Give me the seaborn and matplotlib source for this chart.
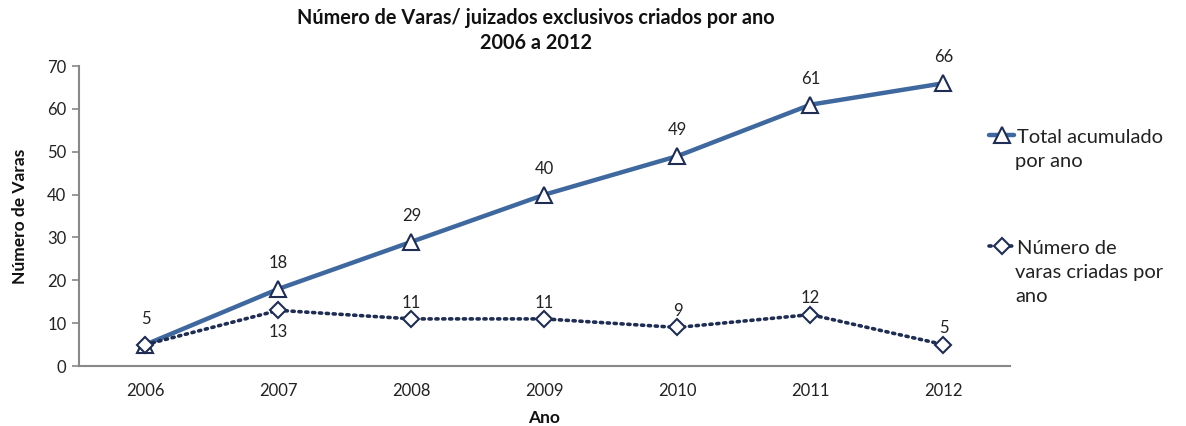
import matplotlib
matplotlib.use("Agg")
import matplotlib.pyplot as plt
import seaborn as sns
import pandas as pd
from matplotlib.lines import Line2D

years = ["2006", "2007", "2008", "2009", "2010", "2011", "2012"]
total_acumulado = [5, 18, 29, 40, 49, 61, 66]
varas_criadas = [5, 13, 11, 11, 9, 12, 5]
yticks = [0, 10, 20, 30, 40, 50, 60, 70]
legend_labels = [["Total acumulado", "por ano"],
                 ["Número de", "varas criadas por", "ano"]]

sns.set_theme(style="white")
plt.rcParams['font.family'] = ['Lato', 'DejaVu Sans']

df = pd.DataFrame({"Ano": years, "total": total_acumulado, "criadas": varas_criadas})

W, H = 1186, 426
fig = plt.figure(figsize=(W / 100, H / 100), dpi=100)
ax = fig.add_axes([0.0666, 0.1408, 0.785, 0.704])

navy = "#1F2D52"
blue = "#3F689E"
txt = "#222222"
fs = 12
lfs = 14.5

sns.lineplot(data=df, x="Ano", y="total", ax=ax, color=blue, linewidth=3.2,
             marker="^", markersize=12, markerfacecolor="white",
             markeredgecolor=navy, markeredgewidth=1.5, sort=False)
sns.lineplot(data=df, x="Ano", y="criadas", ax=ax, color=navy, linewidth=2.6,
             linestyle=(0, (0.6, 1.3)), dash_capstyle="round",
             marker="D", markersize=8.5, markerfacecolor="white",
             markeredgecolor=navy, markeredgewidth=1.5, sort=False)

for i, v in enumerate(total_acumulado):
    ax.annotate(str(v), (i, v), xytext=(0, 13), textcoords="offset points",
                ha="center", va="bottom", fontsize=fs, color=txt)
for i, v in enumerate(varas_criadas):
    if i == 0:
        continue
    if i == 1:
        ax.annotate(str(v), (i, v), xytext=(0, -10), textcoords="offset points",
                    ha="center", va="top", fontsize=fs, color=txt)
    else:
        ax.annotate(str(v), (i, v), xytext=(0, 6), textcoords="offset points",
                    ha="center", va="bottom", fontsize=fs, color=txt)

ax.set_xlim(-0.5, 6.5)
ax.set_ylim(0, 70)
ax.set_yticks(yticks)
ax.set_yticklabels([str(t) for t in yticks], fontsize=fs, color=txt)
ax.tick_params(axis="x", labelsize=fs, labelcolor=txt, length=0, pad=12)
ax.tick_params(axis="y", left=True, length=5, width=1.2, color="#888888", pad=4)

for s in ["top", "right"]:
    ax.spines[s].set_visible(False)
for s in ["left", "bottom"]:
    ax.spines[s].set_color("#888888")
    ax.spines[s].set_linewidth(1.5)

ax.set_xlabel("Ano", fontsize=12.5, fontweight="bold", labelpad=8, color="#111111")
ax.set_ylabel("Número de Varas", fontsize=12.5, fontweight="bold", labelpad=14, color="#111111")
fig.text(536 / W, 1 - 18 / H, "Número de Varas/ juizados exclusivos criados por ano",
         ha="center", va="center", fontsize=14.3, fontweight="bold", color="#111111")
fig.text(536 / W, 1 - 43 / H, "2006 a 2012",
         ha="center", va="center", fontsize=14.3, fontweight="bold", color="#111111")

# legend: handles drawn by matplotlib legend, text lines placed beside them
handles = [
    Line2D([], [], color=blue, linewidth=3.2, marker="^", markersize=12,
           markerfacecolor="white", markeredgecolor=navy, markeredgewidth=1.5),
    Line2D([], [], color=navy, linewidth=2.6, linestyle=(0, (0.6, 1.3)),
           dash_capstyle="round", marker="D", markersize=8.5,
           markerfacecolor="white", markeredgecolor=navy, markeredgewidth=1.5),
]
ys = [137, 248]
for h, lab, y in zip(handles, legend_labels, ys):
    leg = fig.legend([h], [lab[0]], loc="center left",
                     bbox_to_anchor=(989 / W, 1 - y / H), frameon=False,
                     fontsize=lfs, handlelength=1.25, handletextpad=0.15,
                     borderaxespad=0, borderpad=0, labelcolor=txt)
    for k, extra in enumerate(lab[1:], start=1):
        fig.text(1015 / W, 1 - (y + 24.5 * k) / H, extra, ha="left", va="center",
                 fontsize=lfs, color=txt)

fig.savefig("out.png", dpi=100)
